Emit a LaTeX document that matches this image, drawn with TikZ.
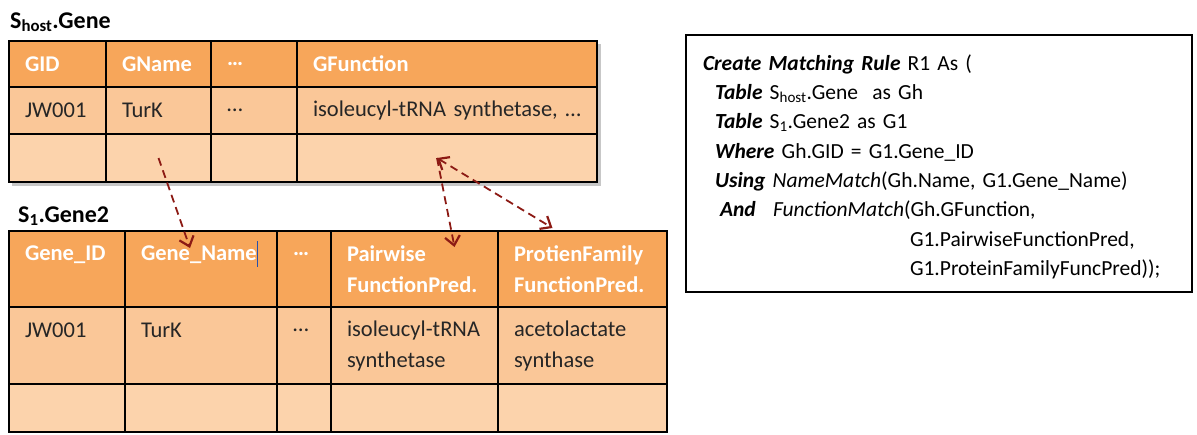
\documentclass[tikz,border=0pt]{standalone}
\usepackage{fontspec}
\setmainfont{Carlito}
\usetikzlibrary{arrows.meta}

\definecolor{hdrorange}{RGB}{247,166,90}
\definecolor{roworange}{RGB}{250,199,152}
\definecolor{rowlight}{RGB}{252,211,172}
\definecolor{linkred}{RGB}{140,26,20}
\definecolor{cursorblue}{RGB}{40,80,170}

\begin{document}
\begin{tikzpicture}[x=1pt,y=-1pt]
	\tikzstyle{cell} = [draw, line width=2.6pt, anchor=north west, outer sep=0pt, inner xsep=16pt, inner ysep=0pt, align=left, text=black!85, font=\fontsize{22.5}{31}\selectfont]
	\tikzstyle{hcell} = [cell, fill=hdrorange, text=white, font=\bfseries\fontsize{22.5}{31}\selectfont]
	\tikzstyle{dcell} = [cell, fill=roworange]
	\tikzstyle{ecell} = [cell, fill=rowlight]
	\tikzstyle{title} = [anchor=base west, inner sep=0pt, font=\bfseries\fontsize{24}{26}\selectfont]
	\tikzstyle{link} = [draw=linkred, line width=1.8pt, dash pattern=on 8pt off 5pt, -{Straight Barb[length=9pt,width=15pt,line width=2.2pt]}]

	\useasboundingbox (0,0) rectangle (1197,434);

	% top table S_host.Gene
	\draw (10,28) node[title] (t1) {S\textsubscript{host}.Gene};
	\fill[black!22] (12,44) rectangle (601,186);

	\draw (9,41) node[hcell, text width=65pt, minimum height=46pt] (g11) {GID};
	\draw (106,41) node[hcell, text width=73pt, minimum height=46pt] (g12) {GName};
	\draw (211,41) node[hcell, text width=54pt, minimum height=46pt] (g13) {\ldots};
	\draw (297,41) node[hcell, text width=268pt, minimum height=46pt] (g14) {GFunction};

	\draw (9,87) node[dcell, text width=65pt, minimum height=47pt] (g21) {JW001};
	\draw (106,87) node[dcell, text width=73pt, minimum height=47pt] (g22) {TurK};
	\draw (211,87) node[dcell, text width=54pt, minimum height=47pt] (g23) {\ldots};
	\draw (297,87) node[dcell, text width=268pt, minimum height=47pt] (g24) {\mbox{isoleucyl-tRNA synthetase, \ldots}};

	\draw (9,134) node[ecell, text width=65pt, minimum height=48pt] (g31) {};
	\draw (106,134) node[ecell, text width=73pt, minimum height=48pt] (g32) {};
	\draw (211,134) node[ecell, text width=54pt, minimum height=48pt] (g33) {};
	\draw (297,134) node[ecell, text width=268pt, minimum height=48pt] (g34) {};

	% bottom table S_1.Gene2
	\draw (18,222) node[title] (t2) {S\textsubscript{1}.Gene2};

	\draw (9,231) node[hcell, text width=84pt, minimum height=76pt] (h11) {Gene\_ID\\~};
	\draw (125,231) node[hcell, text width=120pt, minimum height=76pt] (h12) {Gene\_Name\smash{\color{cursorblue}\rule[-6pt]{1pt}{26pt}}\\~};
	\draw (277,231) node[hcell, text width=22pt, minimum height=76pt] (h13) {\ldots\\~};
	\draw (331,231) node[hcell, text width=135pt, minimum height=76pt] (h14) {Pairwise\\FunctionPred.};
	\draw (498,231) node[hcell, text width=137pt, minimum height=76pt] (h15) {ProtienFamily\\FunctionPred.};

	\draw (9,307) node[dcell, text width=84pt, minimum height=77pt] (h21) {JW001\\~};
	\draw (125,307) node[dcell, text width=120pt, minimum height=77pt] (h22) {TurK\\~};
	\draw (277,307) node[dcell, text width=22pt, minimum height=77pt] (h23) {\ldots\\~};
	\draw (331,307) node[dcell, text width=135pt, minimum height=77pt] (h24) {isoleucyl-tRNA\\synthetase};
	\draw (498,307) node[dcell, text width=137pt, minimum height=77pt] (h25) {acetolactate\\synthase};

	\draw (9,384) node[ecell, text width=84pt, minimum height=48pt] (h31) {};
	\draw (125,384) node[ecell, text width=120pt, minimum height=48pt] (h32) {};
	\draw (277,384) node[ecell, text width=22pt, minimum height=48pt] (h33) {};
	\draw (331,384) node[ecell, text width=135pt, minimum height=48pt] (h34) {};
	\draw (498,384) node[ecell, text width=137pt, minimum height=48pt] (h35) {};

	% matching rule
	\draw (686,35) node[draw, line width=2pt, anchor=north west, outer sep=0pt, inner xsep=17pt, inner ysep=0pt, minimum height=257pt, text width=472pt, align=left, font=\fontsize{21.5}{29.3}\selectfont] (rule) {%
		\rule{0pt}{22pt}\textbf{\textit{Create Matching Rule}} R1 As (\\
		\hspace*{12pt}\textbf{\textit{Table}} S\textsubscript{host}.Gene~ as Gh\\
		\hspace*{12pt}\textbf{\textit{Table}} S\textsubscript{1}.Gene2 as G1\\
		\hspace*{12pt}\textbf{\textit{Where}} Gh.GID = G1.Gene\_ID\\
		\hspace*{12pt}\textbf{\textit{Using}} \textit{NameMatch}(Gh.Name, G1.Gene\_Name)\\
		\hspace*{17pt}\makebox[53pt][l]{\textbf{\textit{And}}}\textit{FunctionMatch}(Gh.GFunction,\\
		\hspace*{207pt}G1.PairwiseFunctionPred,\\
		\hspace*{207pt}G1.ProteinFamilyFuncPred));};

	% links
	\draw[link] (g32.center) -- ([xshift=-11pt,yshift=-17pt]h12.north);
	\draw[link] ([xshift=-10pt]g34.center) -- ([xshift=40pt,yshift=-16pt]h14.north);
	\draw[link, {Straight Barb[length=9pt,width=15pt,line width=2.2pt]}-{Straight Barb[length=9pt,width=15pt,line width=2.2pt]}] ([xshift=-10pt]g34.center) -- ([xshift=-30pt,yshift=3pt]h15.north);
\end{tikzpicture}
\end{document}
